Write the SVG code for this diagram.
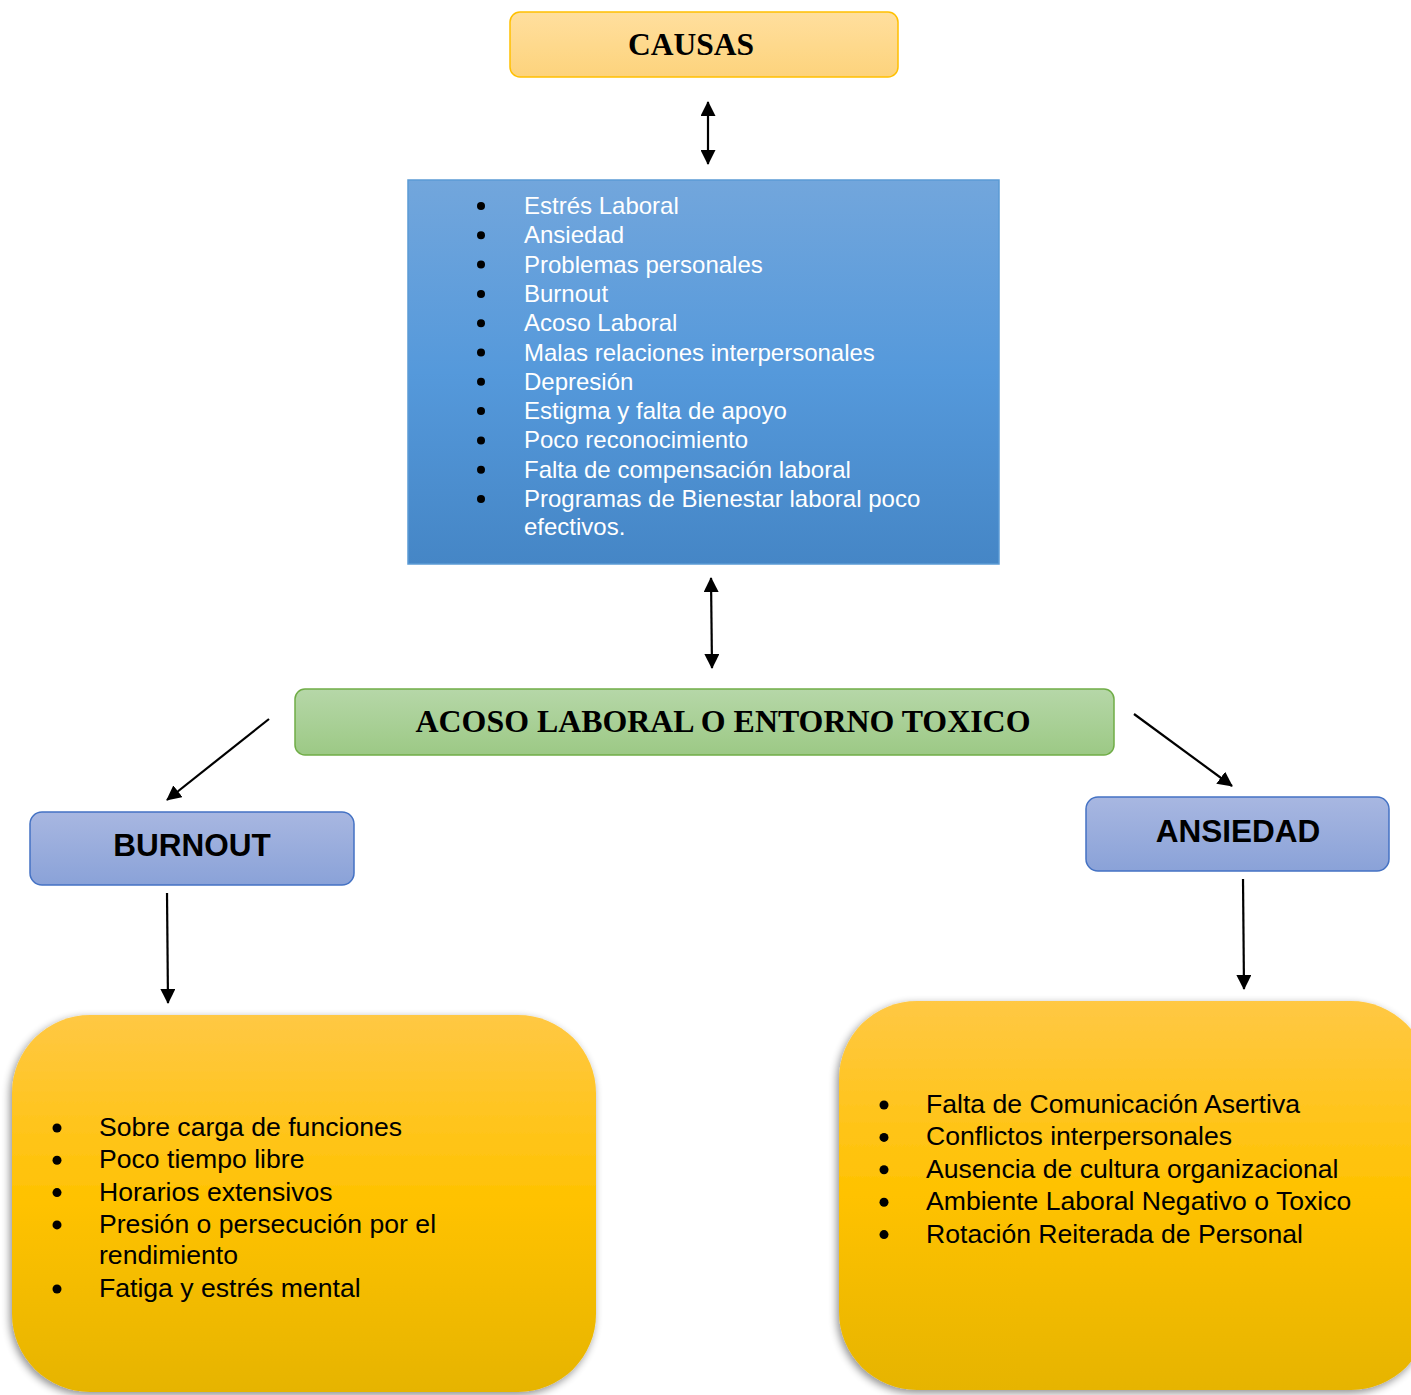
<svg xmlns="http://www.w3.org/2000/svg" width="1411" height="1395" viewBox="0 0 1411 1395">
<defs>
<linearGradient id="gOrange" x1="0" y1="0" x2="0" y2="1"><stop offset="0" stop-color="#FFDF9E"/><stop offset="1" stop-color="#FDD37C"/></linearGradient>
<linearGradient id="gBlue" x1="0" y1="0" x2="0" y2="1"><stop offset="0" stop-color="#72A6DC"/><stop offset="0.5" stop-color="#5599DB"/><stop offset="1" stop-color="#4586C6"/></linearGradient>
<linearGradient id="gGreen" x1="0" y1="0" x2="0" y2="1"><stop offset="0" stop-color="#B6D7A8"/><stop offset="1" stop-color="#9CC985"/></linearGradient>
<linearGradient id="gLav" x1="0" y1="0" x2="0" y2="1"><stop offset="0" stop-color="#A8B7E1"/><stop offset="1" stop-color="#8AA2D8"/></linearGradient>
<linearGradient id="gYellow" x1="0" y1="0" x2="0" y2="1"><stop offset="0" stop-color="#FFC844"/><stop offset="0.5" stop-color="#FFC200"/><stop offset="1" stop-color="#E6B400"/></linearGradient>
<filter id="shadow" x="-10%" y="-10%" width="120%" height="120%"><feGaussianBlur in="SourceAlpha" stdDeviation="4"/><feOffset dx="-2" dy="3" result="b"/><feComponentTransfer><feFuncA type="linear" slope="0.45"/></feComponentTransfer><feMerge><feMergeNode/><feMergeNode in="SourceGraphic"/></feMerge></filter>
<marker id="ah" viewBox="0 0 15 15" refX="14" refY="7.5" markerWidth="15" markerHeight="15" orient="auto-start-reverse" markerUnits="userSpaceOnUse"><path d="M0,0 L15,7.5 L0,15 Z" fill="#000"/></marker>
</defs>
<style>
.ttl{font-family:"Liberation Serif","Times New Roman",serif;font-weight:bold;fill:#000;text-anchor:middle}
.hd{font-family:"Liberation Sans",Arial,sans-serif;font-weight:bold;fill:#000;text-anchor:middle}
.wl{font-family:"Liberation Sans",Arial,sans-serif;font-size:24px;fill:#FFFFFF}
.bl{font-family:"Liberation Sans",Arial,sans-serif;font-size:26.6px;fill:#000}
.conn{stroke:#000;stroke-width:2.2;fill:none}
</style>
<rect width="1411" height="1395" fill="#FFFFFF"/>

<g id="causas">
<rect x="510" y="12" width="388" height="65" rx="10" fill="url(#gOrange)" stroke="#FFC000" stroke-width="1.5"/>
<text class="ttl" x="691" y="55" font-size="31.5">CAUSAS</text>
</g>

<g id="lista-causas">
<rect x="408" y="180" width="591" height="384" fill="url(#gBlue)" stroke="#5B9BD5" stroke-width="1.5"/>
<g fill="#000">
<circle cx="481" cy="206" r="4"/><circle cx="481" cy="235.3" r="4"/><circle cx="481" cy="264.6" r="4"/><circle cx="481" cy="293.9" r="4"/><circle cx="481" cy="323.2" r="4"/><circle cx="481" cy="352.5" r="4"/><circle cx="481" cy="381.8" r="4"/><circle cx="481" cy="411.1" r="4"/><circle cx="481" cy="440.4" r="4"/><circle cx="481" cy="469.7" r="4"/><circle cx="481" cy="499" r="4"/>
</g>
<text class="wl" x="524" y="214">Estrés Laboral</text>
<text class="wl" x="524" y="243.3">Ansiedad</text>
<text class="wl" x="524" y="272.6">Problemas personales</text>
<text class="wl" x="524" y="301.9">Burnout</text>
<text class="wl" x="524" y="331.2">Acoso Laboral</text>
<text class="wl" x="524" y="360.5">Malas relaciones interpersonales</text>
<text class="wl" x="524" y="389.8">Depresión</text>
<text class="wl" x="524" y="419.1">Estigma y falta de apoyo</text>
<text class="wl" x="524" y="448.4">Poco reconocimiento</text>
<text class="wl" x="524" y="477.7">Falta de compensación laboral</text>
<text class="wl" x="524" y="507">Programas de Bienestar laboral poco</text>
<text class="wl" x="524" y="535">efectivos.</text>
</g>

<g id="acoso">
<rect x="295" y="689" width="819" height="66" rx="10" fill="url(#gGreen)" stroke="#70AD47" stroke-width="1.5"/>
<text class="ttl" x="723" y="732" font-size="31.9">ACOSO LABORAL O ENTORNO TOXICO</text>
</g>

<g id="burnout">
<rect x="30" y="812" width="324" height="73" rx="12" fill="url(#gLav)" stroke="#4472C4" stroke-width="1.5"/>
<text class="hd" x="192" y="856" font-size="31.5">BURNOUT</text>
</g>

<g id="ansiedad">
<rect x="1086" y="797" width="303" height="74" rx="12" fill="url(#gLav)" stroke="#4472C4" stroke-width="1.5"/>
<text class="hd" x="1238" y="842" font-size="31.5">ANSIEDAD</text>
</g>

<g id="lista-burnout">
<rect x="12" y="1015" width="584" height="377" rx="78" fill="url(#gYellow)" filter="url(#shadow)"/>
<g fill="#000">
<circle cx="57" cy="1128" r="4.5"/><circle cx="57" cy="1160.3" r="4.5"/><circle cx="57" cy="1192.6" r="4.5"/><circle cx="57" cy="1224.9" r="4.5"/><circle cx="57" cy="1289" r="4.5"/>
</g>
<text class="bl" x="99" y="1136">Sobre carga de funciones</text>
<text class="bl" x="99" y="1168.3">Poco tiempo libre</text>
<text class="bl" x="99" y="1200.6">Horarios extensivos</text>
<text class="bl" x="99" y="1232.9">Presión o persecución por el</text>
<text class="bl" x="99" y="1264">rendimiento</text>
<text class="bl" x="99" y="1297">Fatiga y estrés mental</text>
</g>

<g id="lista-ansiedad">
<rect x="839" y="1001" width="590" height="389" rx="78" fill="url(#gYellow)" filter="url(#shadow)"/>
<g fill="#000">
<circle cx="884" cy="1105" r="4.5"/><circle cx="884" cy="1137.4" r="4.5"/><circle cx="884" cy="1169.8" r="4.5"/><circle cx="884" cy="1202.2" r="4.5"/><circle cx="884" cy="1234.6" r="4.5"/>
</g>
<text class="bl" x="926" y="1113">Falta de Comunicación Asertiva</text>
<text class="bl" x="926" y="1145.4">Conflictos interpersonales</text>
<text class="bl" x="926" y="1177.8">Ausencia de cultura organizacional</text>
<text class="bl" x="926" y="1210.2">Ambiente Laboral Negativo o Toxico</text>
<text class="bl" x="926" y="1242.6">Rotación Reiterada de Personal</text>
</g>

<g id="connectors">
<line class="conn" x1="708" y1="102" x2="708" y2="164" marker-start="url(#ah)" marker-end="url(#ah)"/>
<line class="conn" x1="711" y1="578" x2="712" y2="668" marker-start="url(#ah)" marker-end="url(#ah)"/>
<line class="conn" x1="269" y1="719" x2="167" y2="800" marker-end="url(#ah)"/>
<line class="conn" x1="1134" y1="714" x2="1232" y2="786" marker-end="url(#ah)"/>
<line class="conn" x1="167" y1="893" x2="168" y2="1003" marker-end="url(#ah)"/>
<line class="conn" x1="1243" y1="879" x2="1244" y2="989" marker-end="url(#ah)"/>
</g>
</svg>
